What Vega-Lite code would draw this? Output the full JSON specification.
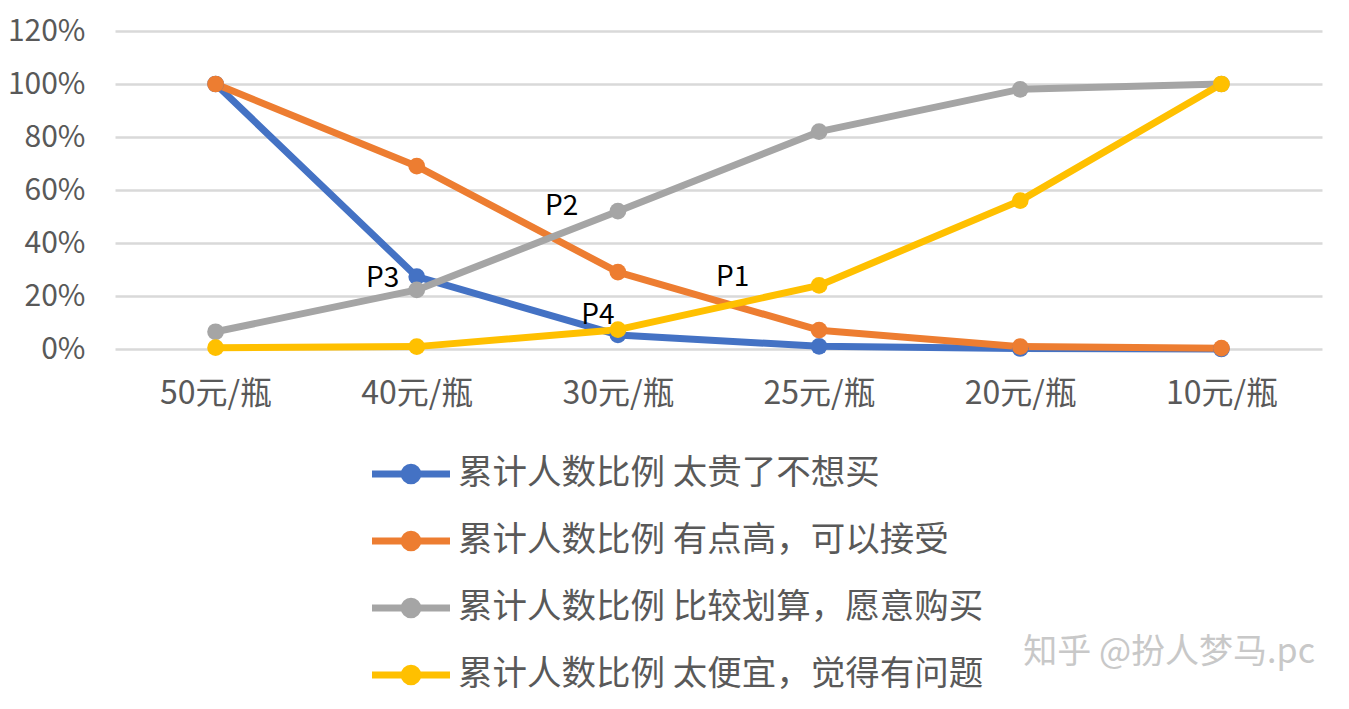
{
  "$schema": "https://vega.github.io/schema/vega-lite/v6.json",
  "width": 1207,
  "height": 318,
  "autosize": {"type": "none"},
  "padding": {"left": 115, "top": 31, "right": 27, "bottom": 360},
  "background": "white",
  "config": {
    "font": "Noto Sans CJK SC",
    "view": {"stroke": null}
  },
  "title": {
    "text": "知乎 @扮人梦马.pc",
    "orient": "bottom",
    "anchor": "end",
    "offset": -60,
    "dx": -7,
    "fontSize": 34,
    "fontWeight": "normal",
    "color": "#c8c8c8"
  },
  "datasets": {
    "main": [
      {"price": "50元/瓶", "series": "累计人数比例 太贵了不想买", "value": 1.0},
      {"price": "40元/瓶", "series": "累计人数比例 太贵了不想买", "value": 0.273},
      {"price": "30元/瓶", "series": "累计人数比例 太贵了不想买", "value": 0.053},
      {"price": "25元/瓶", "series": "累计人数比例 太贵了不想买", "value": 0.01},
      {"price": "20元/瓶", "series": "累计人数比例 太贵了不想买", "value": 0.002},
      {"price": "10元/瓶", "series": "累计人数比例 太贵了不想买", "value": 0.0},
      {"price": "50元/瓶", "series": "累计人数比例 有点高，可以接受", "value": 1.0},
      {"price": "40元/瓶", "series": "累计人数比例 有点高，可以接受", "value": 0.69},
      {"price": "30元/瓶", "series": "累计人数比例 有点高，可以接受", "value": 0.29},
      {"price": "25元/瓶", "series": "累计人数比例 有点高，可以接受", "value": 0.071},
      {"price": "20元/瓶", "series": "累计人数比例 有点高，可以接受", "value": 0.009},
      {"price": "10元/瓶", "series": "累计人数比例 有点高，可以接受", "value": 0.003},
      {"price": "50元/瓶", "series": "累计人数比例 比较划算，愿意购买", "value": 0.065},
      {"price": "40元/瓶", "series": "累计人数比例 比较划算，愿意购买", "value": 0.223},
      {"price": "30元/瓶", "series": "累计人数比例 比较划算，愿意购买", "value": 0.52},
      {"price": "25元/瓶", "series": "累计人数比例 比较划算，愿意购买", "value": 0.82},
      {"price": "20元/瓶", "series": "累计人数比例 比较划算，愿意购买", "value": 0.98},
      {"price": "10元/瓶", "series": "累计人数比例 比较划算，愿意购买", "value": 1.0},
      {"price": "50元/瓶", "series": "累计人数比例 太便宜，觉得有问题", "value": 0.005},
      {"price": "40元/瓶", "series": "累计人数比例 太便宜，觉得有问题", "value": 0.009},
      {"price": "30元/瓶", "series": "累计人数比例 太便宜，觉得有问题", "value": 0.073},
      {"price": "25元/瓶", "series": "累计人数比例 太便宜，觉得有问题", "value": 0.24},
      {"price": "20元/瓶", "series": "累计人数比例 太便宜，觉得有问题", "value": 0.56},
      {"price": "10元/瓶", "series": "累计人数比例 太便宜，觉得有问题", "value": 1.0}
    ],
    "notes": [
      {"label": "P1", "pos": 2.57, "value": 0.268},
      {"label": "P2", "pos": 1.72, "value": 0.536},
      {"label": "P3", "pos": 0.83, "value": 0.264},
      {"label": "P4", "pos": 1.9, "value": 0.125}
    ]
  },
  "resolve": {"scale": {"x": "independent"}},
  "layer": [
    {
      "data": {"name": "main"},
      "encoding": {
        "x": {
          "field": "price",
          "type": "ordinal",
          "sort": ["50元/瓶", "40元/瓶", "30元/瓶", "25元/瓶", "20元/瓶", "10元/瓶"],
          "scale": {"type": "point", "padding": 0.5},
          "axis": {
            "title": null,
            "domain": false,
            "ticks": false,
            "labelAngle": 0,
            "labelFontSize": 32,
            "labelColor": "#595959",
            "labelPadding": 29,
            "grid": false
          }
        },
        "y": {
          "field": "value",
          "type": "quantitative",
          "scale": {"domain": [0, 1.2]},
          "axis": {
            "title": null,
            "values": [0, 0.2, 0.4, 0.6, 0.8, 1.0, 1.2],
            "format": ".0%",
            "domain": false,
            "ticks": false,
            "labelFontSize": 30,
            "labelColor": "#595959",
            "labelPadding": 30,
            "gridColor": "#d9d9d9",
            "gridWidth": 2.5
          }
        },
        "color": {
          "field": "series",
          "type": "nominal",
          "sort": ["累计人数比例 太贵了不想买", "累计人数比例 有点高，可以接受", "累计人数比例 比较划算，愿意购买", "累计人数比例 太便宜，觉得有问题"],
          "scale": {
            "domain": ["累计人数比例 太贵了不想买", "累计人数比例 有点高，可以接受", "累计人数比例 比较划算，愿意购买", "累计人数比例 太便宜，觉得有问题"],
            "range": ["#4472c4", "#ed7d31", "#a5a5a5", "#ffc000"]
          },
          "legend": {
            "title": null,
            "orient": "none",
            "legendX": 273,
            "legendY": 420,
            "direction": "vertical",
            "symbolType": "M-2,0H2M-0.35,0A0.35,0.35,0,1,1,0.35,0A0.35,0.35,0,1,1,-0.35,0Z",
            "symbolSize": 1521,
            "symbolStrokeWidth": 7,
            "symbolOpacity": 1,
            "labelFontSize": 34.5,
            "labelColor": "#595959",
            "labelOffset": 24,
            "rowPadding": 23,
            "labelLimit": 800
          }
        }
      },
      "layer": [
        {"mark": {"type": "line", "strokeWidth": 7, "strokeCap": "round", "strokeJoin": "round"}},
        {"mark": {"type": "point", "filled": true, "size": 280, "opacity": 1}}
      ]
    },
    {
      "data": {"name": "notes"},
      "mark": {"type": "text", "fontSize": 28, "color": "#000000", "align": "center", "baseline": "middle"},
      "encoding": {
        "x": {"field": "pos", "type": "quantitative", "scale": {"domain": [-0.5, 5.5], "nice": false, "zero": false}, "axis": null},
        "y": {"field": "value", "type": "quantitative"},
        "text": {"field": "label"}
      }
    }
  ]
}
